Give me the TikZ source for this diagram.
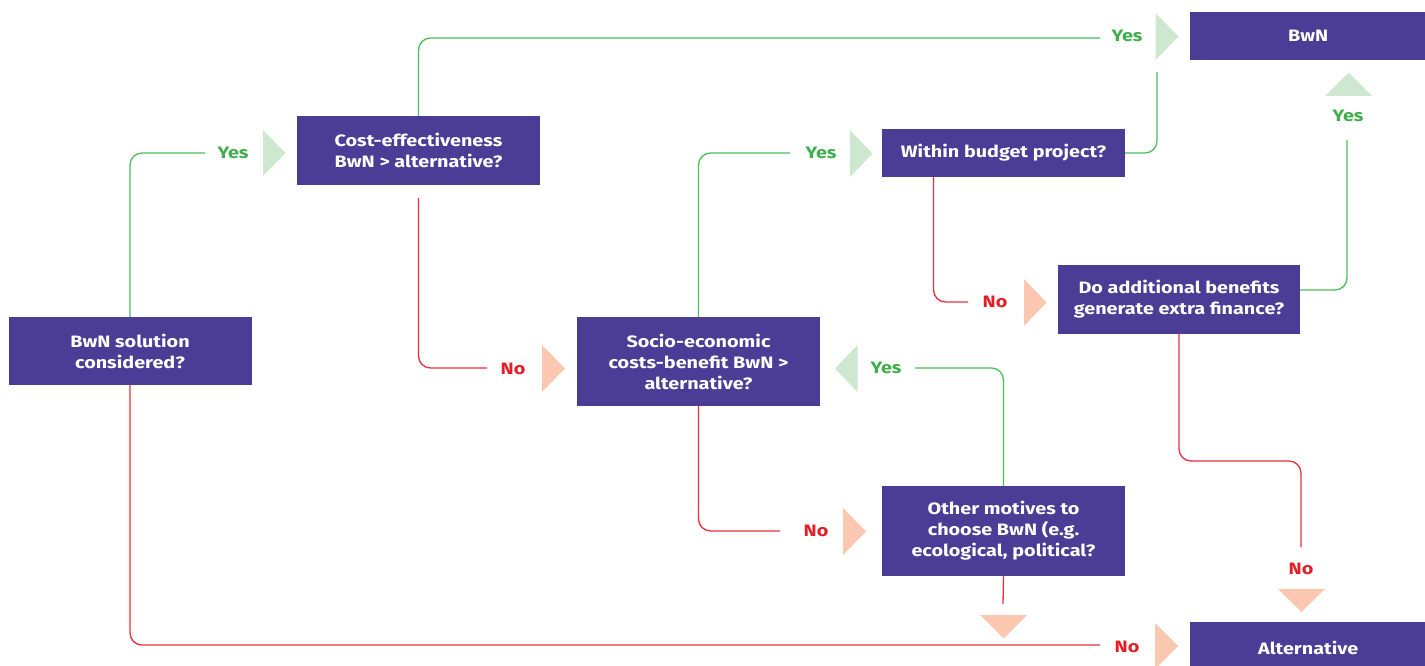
\documentclass[tikz,border=0pt]{standalone}
\usepackage{fontspec}
\setmainfont[FakeStretch=1.2]{Fira Sans}
\definecolor{boxpurple}{HTML}{4B3C96}
\definecolor{gline}{HTML}{4DBE5A}
\definecolor{gtext}{HTML}{3DAE4A}
\definecolor{gtri}{HTML}{CDE8CF}
\definecolor{rline}{HTML}{E8303A}
\definecolor{rtext}{HTML}{E41E26}
\definecolor{rtri}{HTML}{FBC7B1}
\begin{document}
\begin{tikzpicture}[x=1pt,y=-1pt,
  qbox/.style={rectangle,fill=boxpurple,text=white,inner sep=0pt,align=center,
    minimum width=243pt,font=\fontsize{16.5}{21}\selectfont\bfseries},
  yeslab/.style={text=gtext,inner sep=0pt,font=\fontsize{16.5}{20}\selectfont\bfseries},
  nolab/.style={text=rtext,inner sep=0pt,font=\fontsize{16.5}{20}\selectfont\bfseries},
  yesline/.style={draw=gline,line width=1.3pt,rounded corners=12pt},
  noline/.style={draw=rline,line width=1.3pt,rounded corners=12pt},
  gtrifill/.style={fill=gtri},
  rtrifill/.style={fill=rtri}]
\useasboundingbox (0,0) rectangle (1425,666);

% free ends of connectors
\coordinate (c1) at (205,153);
\coordinate (c2) at (1100,38);
\coordinate (c3) at (1157,72);
\coordinate (c4) at (487,368);
\coordinate (c5) at (790,153);
\coordinate (c6) at (968,302);
\coordinate (c7) at (1347,140);
\coordinate (c8) at (1301,547);
\coordinate (c9) at (780,531);
\coordinate (c10) at (915,368);
\coordinate (c11) at (1003,604);
\coordinate (c12) at (1100,645);

% boxes
\node[qbox,minimum height=68pt] (bs) at (130,351) {BwN solution\\considered?};
\node[qbox,minimum height=69pt] (ce) at (418.5,150.5) {Cost-effectiveness\\BwN > alternative?};
\node[qbox,minimum height=89pt] (se) at (698.5,361.5) {Socio-economic\\costs-benefit BwN >\\alternative?};
\node[qbox,minimum height=48pt] (wb) at (1003.5,153) {Within budget project?};
\node[qbox,minimum height=69pt,minimum width=242pt] (da) at (1179,299.5) {Do additional benefits\\generate extra finance?};
\node[qbox,minimum height=90pt] (om) at (1003.5,531) {Other motives to\\choose BwN (e.g.\\ecological, political?};
\node[qbox,minimum height=48pt,minimum width=240pt,anchor=west] (bwn) at (1190,36) {\hspace*{-4pt}BwN};
\node[qbox,minimum height=52pt,minimum width=240pt,anchor=west] (alt) at (1190,648) {\hspace*{-4pt}Alternative};

% connectors
\draw[yesline] (bs.north) |- (c1);
\draw[yesline] (ce.north) |- (c2);
\draw[yesline] (wb.east) -| (c3);
\draw[noline] ([yshift=-13pt]ce.south) |- (c4);
\draw[yesline] (se.north) |- (c5);
\draw[noline] ([xshift=-70pt]wb.south) |- (c6);
\draw[yesline] ([yshift=9.5pt]da.east) -| (c7);
\draw[noline] (da.south) -- (1179,461) -- (1301,461) -- (c8);
\draw[noline] (se.south) |- (c9);
\draw[yesline] (om.north) |- (c10);
\draw[noline] (om.south) -- (c11);
\draw[noline] (bs.south) |- (c12);

% labels
\node[yeslab] (y1) at (233,153) {Yes};
\node[yeslab] (y2) at (1127,36) {Yes};
\node[yeslab] (y3) at (821,153) {Yes};
\node[yeslab] (y4) at (1348,116) {Yes};
\node[yeslab] (y5) at (886,368) {Yes};
\node[nolab] (n1) at (513,369) {No};
\node[nolab] (n2) at (995,302) {No};
\node[nolab] (n3) at (1301,569) {No};
\node[nolab] (n4) at (816,531) {No};
\node[nolab] (n5) at (1127,647) {No};

% arrowhead triangles
\fill[gtrifill] (263,130) -- (285.5,153) -- (263,176) -- cycle;
\fill[gtrifill] (1155.5,13) -- (1178.5,36.5) -- (1155.5,60) -- cycle;
\fill[gtrifill] (850,130) -- (872.5,153.5) -- (850,177) -- cycle;
\fill[gtrifill] (1325,96) -- (1348.5,72.5) -- (1372,96) -- cycle;
\fill[gtrifill] (857.5,345) -- (835,368.5) -- (857.5,392) -- cycle;
\fill[rtrifill] (542,345) -- (565,368.5) -- (542,392) -- cycle;
\fill[rtrifill] (1024,279) -- (1046.5,302.5) -- (1024,326) -- cycle;
\fill[rtrifill] (843,508) -- (866,531.5) -- (843,555) -- cycle;
\fill[rtrifill] (1278,589) -- (1301.5,612) -- (1325,589) -- cycle;
\fill[rtrifill] (980,615) -- (1003.5,638.5) -- (1027,615) -- cycle;
\fill[rtrifill] (1155,623) -- (1178,646) -- (1155,669) -- cycle;
\end{tikzpicture}
\end{document}
